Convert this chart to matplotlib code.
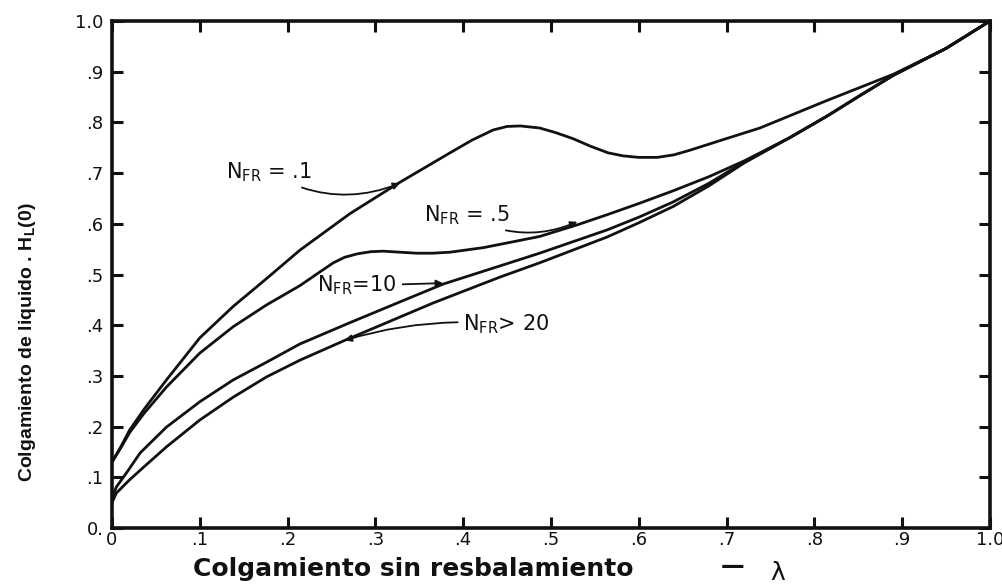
import matplotlib
matplotlib.use("Agg")
import matplotlib.pyplot as plt

# ---- data ----
x_tick_vals = [0, .1, .2, .3, .4, .5, .6, .7, .8, .9, 1.0]
x_tick_labels = ["0", ".1", ".2", ".3", ".4", ".5", ".6", ".7", ".8", ".9", "1.0"]
y_tick_vals = [0, .1, .2, .3, .4, .5, .6, .7, .8, .9, 1.0]
y_tick_labels = ["0.", ".1", ".2", ".3", ".4", ".5", ".6", ".7", ".8", ".9", "1.0"]

nfr01_x = [0, 0.01, 0.02, 0.036, 0.062, 0.1, 0.138, 0.174, 0.214, 0.271, 0.328, 0.385,
           0.41, 0.434, 0.45, 0.465, 0.487, 0.505, 0.525, 0.545, 0.565, 0.582, 0.60,
           0.621, 0.64, 0.658, 0.696, 0.738, 0.814, 0.89, 0.95, 1.0]
nfr01_y = [0.13, 0.16, 0.193, 0.233, 0.292, 0.375, 0.437, 0.489, 0.548, 0.620, 0.682, 0.740,
           0.765, 0.785, 0.792, 0.793, 0.789, 0.780, 0.768, 0.753, 0.740, 0.734, 0.731,
           0.731, 0.736, 0.745, 0.766, 0.789, 0.843, 0.895, 0.946, 1.0]

nfr05_x = [0, 0.01, 0.02, 0.036, 0.062, 0.1, 0.138, 0.176, 0.214, 0.235, 0.252, 0.265,
           0.28, 0.295, 0.309, 0.328, 0.347, 0.365, 0.385, 0.423, 0.461, 0.487, 0.53,
           0.564, 0.60, 0.639, 0.68, 0.72, 0.772, 0.814, 0.852, 0.89, 0.95, 1.0]
nfr05_y = [0.13, 0.158, 0.188, 0.225, 0.278, 0.345, 0.397, 0.440, 0.478, 0.503, 0.523, 0.534,
           0.541, 0.545, 0.546, 0.544, 0.542, 0.542, 0.544, 0.553, 0.566, 0.575, 0.598,
           0.618, 0.640, 0.665, 0.693, 0.724, 0.770, 0.812, 0.853, 0.893, 0.946, 1.0]

nfr10_x = [0, 0.005, 0.017, 0.032, 0.062, 0.1, 0.138, 0.176, 0.214, 0.271, 0.328, 0.377,
           0.442, 0.487, 0.564, 0.60, 0.639, 0.68, 0.72, 0.772, 0.814, 0.852, 0.89, 0.95, 1.0]
nfr10_y = [0.06, 0.081, 0.110, 0.148, 0.199, 0.249, 0.292, 0.327, 0.363, 0.405, 0.446, 0.481,
           0.517, 0.542, 0.588, 0.613, 0.643, 0.680, 0.722, 0.770, 0.812, 0.853, 0.893, 0.946, 1.0]

nfr20_x = [0, 0.005, 0.02, 0.036, 0.062, 0.1, 0.138, 0.176, 0.214, 0.265, 0.366, 0.442,
           0.487, 0.564, 0.60, 0.639, 0.68, 0.72, 0.772, 0.814, 0.852, 0.89, 0.95, 1.0]
nfr20_y = [0.05, 0.069, 0.095, 0.120, 0.160, 0.213, 0.258, 0.298, 0.331, 0.370, 0.444, 0.495,
           0.523, 0.574, 0.602, 0.634, 0.675, 0.720, 0.770, 0.812, 0.853, 0.893, 0.946, 1.0]

fig = plt.figure(figsize=(10.03, 5.84), dpi=100)
ax = fig.add_axes([112 / 1003, 1 - 528 / 584, 878 / 1003, 507 / 584])

lc = "#111111"
for xs, ys in [(nfr01_x, nfr01_y), (nfr05_x, nfr05_y), (nfr10_x, nfr10_y), (nfr20_x, nfr20_y)]:
    ax.plot(xs, ys, color=lc, lw=2.0, solid_joinstyle="round", solid_capstyle="round")

ax.set_xlim(0, 1.0)
ax.set_ylim(0, 1.0)
ax.set_xticks(x_tick_vals)
ax.set_xticklabels(x_tick_labels)
ax.set_yticks(y_tick_vals)
ax.set_yticklabels(y_tick_labels)
ax.tick_params(direction="in", length=8, width=2.2, top=True, right=True,
               labelsize=13, pad=6, colors=lc)
ax.tick_params(axis="x", pad=2)
for s in ax.spines.values():
    s.set_linewidth(2.6)
    s.set_color(lc)

# ---- annotations ----
afs = 15
arrow = dict(arrowstyle="-|>", lw=1.3, color=lc, mutation_scale=10, shrinkA=2, shrinkB=0)
ax.annotate(r"$\mathregular{N_{FR}}$ = .1", xy=(0.328, 0.680), xytext=(0.130, 0.702),
            fontsize=afs, va="center", ha="left", color=lc,
            arrowprops=dict(arrow, connectionstyle="arc3,rad=0.25"))
ax.annotate(r"$\mathregular{N_{FR}}$ = .5", xy=(0.530, 0.604), xytext=(0.355, 0.617),
            fontsize=afs, va="center", ha="left", color=lc,
            arrowprops=dict(arrow, connectionstyle="arc3,rad=0.25"))
ax.annotate(r"$\mathregular{N_{FR}}$=10", xy=(0.377, 0.483), xytext=(0.234, 0.478),
            fontsize=afs, va="center", ha="left", color=lc,
            arrowprops=dict(arrow, connectionstyle="arc3,rad=0"))
ax.annotate(r"$\mathregular{N_{FR}}$> 20", xy=(0.265, 0.370), xytext=(0.400, 0.402),
            fontsize=afs, va="center", ha="left", color=lc,
            arrowprops=dict(arrow, connectionstyle="arc3,rad=0.1"))

# ---- axis titles ----
fig.text(413 / 1003, 1 - 569 / 584, "Colgamiento sin resbalamiento", fontsize=18,
         fontweight="bold", ha="center", va="center", color=lc)
fig.text(733 / 1003, 1 - 566 / 584, "\u2014", fontsize=17, fontweight="bold",
         ha="center", va="center", color=lc)
fig.text(778 / 1003, 1 - 573 / 584, "\u03bb", fontsize=18, ha="center", va="center", color=lc)
fig.text(28 / 1003, 1 - 342 / 584, r"Colgamiento de liquido . H$_\mathregular{L}$(0)",
         family=["Liberation Sans", "DejaVu Sans"], fontweight="bold", fontsize=14,
         rotation=90, ha="center", va="center", color=lc)

fig.savefig("out.png", dpi=100, facecolor="white")
